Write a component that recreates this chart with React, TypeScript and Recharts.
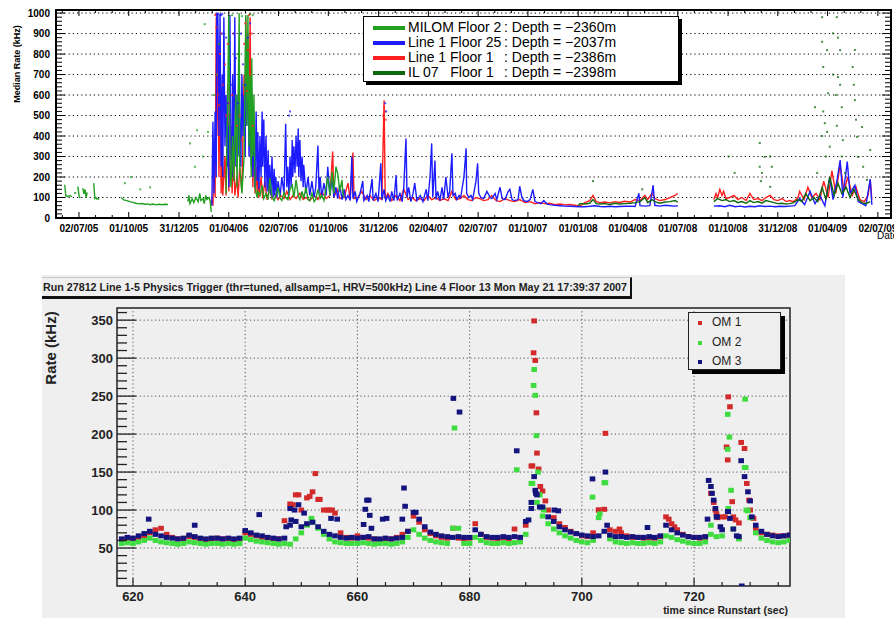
import React from 'react';
import {
  ComposedChart,
  ScatterChart,
  Line,
  Scatter,
  XAxis,
  YAxis,
  ReferenceLine,
  ReferenceArea,
  Legend,
} from 'recharts';

const FONT = '"Liberation Sans", Arial, Helvetica, sans-serif';

// ---------------- top panel: median rates 2005-2009 ----------------
// x = days since 02/07/05
const dayTicks = [0, 91, 183, 274, 365, 456, 548, 639, 730, 821, 913, 1004, 1095, 1187, 1278, 1369, 1461];
const dayLabels = [
  '02/07/05', '01/10/05', '31/12/05', '01/04/06', '02/07/06', '01/10/06', '31/12/06', '02/04/07',
  '02/07/07', '01/10/07', '01/01/08', '01/04/08', '01/07/08', '01/10/08', '31/12/08', '01/04/09', '02/07/09',
];
const rateTicks = [0, 100, 200, 300, 400, 500, 600, 700, 800, 900, 1000];
const rateGrid = [100, 200, 300, 400, 500, 600, 700, 800, 900, 1000];

type Pt = [number, number | null];

const milomTrace: Pt[] = [
  [-26, 162], [-24, 108], [-20, 105], [-16, 110], [-13, 104], [-11, null], [-9, 121], [-5, 124], [-4, null],
  [-2, 153], [0, 110], [2, 97], [5, null], [7, 146], [9, 118], [11, 140], [13, 100], [15, 125], [17, null],
  [27, 170], [29, 95], [31, 100], [33, 92], [35, 95], [37, 90], [40, null],
  [77, 100], [79, 95], [82, 88], [88, 85], [93, 80], [99, 76], [104, 72], [110, 69], [115, 71], [121, 67],
  [126, 69], [130, 65], [135, 68], [141, 64], [146, 67], [152, 65], [157, 67], [163, 66], [165, null],
  [199, 80], [201, 110], [203, 70], [207, 95], [210, 75], [214, 100], [218, 80], [221, 120], [223, 85],
  [227, 95], [229, 70], [232, 110], [234, 90], [238, 100], [240, 80], [242, 30], [243, null],
  [269, 120], [272, 600], [274, 990], [276, 300], [278, 150], [281, 400], [283, 180], [287, 600], [289, 150],
  [293, 990], [294, 250], [298, 120], [302, 300], [305, 990], [307, 450], [309, 990], [311, 350], [313, 700],
  [315, 200], [316, 780], [318, 300], [320, 600], [322, 150], [324, 120], [326, 100],
  [327, 130], [331, 110], [335, 160], [338, 95], [342, 120], [346, 90], [349, 195], [353, 100], [357, 85],
  [360, 110], [364, 150], [368, 95], [371, 85], [375, 125], [378, 100], [382, 90], [386, 140], [390, 160],
  [393, 100], [397, 186], [401, 110], [404, 90], [408, 130], [411, 95], [415, 150], [419, 90], [422, 85],
  [426, 120], [430, 80], [433, 90], [437, 140], [441, 95], [444, 110], [448, 85], [452, 150], [455, 201],
  [459, 110], [463, 226], [466, 120], [470, 251], [473, 220], [477, 130], [481, 186], [483, 110], [485, 100],
];
const milomDots: Pt[] = [
  [84, 170], [95, 200], [112, 140], [130, 150], [203, 364], [212, 250], [216, 428], [227, 300], [230, 946],
  [236, 420], [247, 600], [252, 700], [256, 850], [280, 990], [293, 995], [298, 985], [313, 995], [318, 990],
  [290, 800], [300, 650], [309, 900],
];

const floor25Trace: Pt[] = [
  [243, 60], [245, 470], [247, 120], [249, 520], [251, 200], [252, 990], [254, 1000], [256, 400], [258, 995],
  [260, 250], [262, 700], [263, 200], [265, 980], [267, 350], [269, 600], [271, 250], [272, 450], [274, 150],
  [276, 990], [278, 300], [280, 200], [281, 700], [283, 350], [285, 980], [287, 250], [289, 600], [291, 300],
  [293, 800], [294, 500], [296, 250], [298, 700], [300, 400], [302, 600], [304, 300], [305, 900], [307, 450],
  [309, 750], [311, 300], [313, 500], [315, 250], [316, 600], [318, 200], [320, 450], [322, 150], [324, 520],
  [326, 180], [327, 420], [329, 140], [331, 400], [333, 200], [335, 520], [336, 250], [338, 480], [340, 150],
  [342, 400], [344, 130], [346, 330], [347, 120], [349, 260], [351, 110], [353, 300], [355, 100], [357, 240],
  [358, 110], [360, 200], [362, 100], [364, 180], [368, 110], [371, 200], [375, 120], [378, 460], [380, 150],
  [382, 250], [384, 110], [386, 300], [388, 150], [390, 380], [391, 200], [393, 350], [395, 220], [397, 400],
  [399, 250], [401, 437], [402, 200], [404, 380], [406, 180], [408, 300], [410, 150], [411, 260], [415, 120],
  [419, 200], [422, 110], [426, 180], [430, 100], [433, 150], [437, 354], [439, 120], [441, 200], [444, 100],
  [448, 170], [452, 110], [455, 250], [459, 110], [463, 200], [466, 100], [470, 150], [473, 95], [477, 160],
  [481, 90], [485, 140], [488, 90], [492, 110], [496, 85], [499, 300], [501, 95], [505, 130], [508, 80],
  [514, 120], [519, 180], [521, 85], [527, 110], [530, 80], [536, 190], [538, 85], [543, 120], [547, 80],
  [552, 267], [554, 90], [558, 140], [561, 85], [565, 110], [569, 80], [572, 130], [576, 85], [580, 210],
  [582, 85], [587, 120], [591, 80], [594, 150], [598, 388], [600, 100], [603, 150], [607, 80], [611, 120],
  [614, 170], [618, 85], [624, 110], [629, 80], [635, 140], [638, 85], [642, 200], [645, 364], [647, 100],
  [651, 280], [653, 90], [656, 130], [660, 85], [664, 150], [667, 90], [671, 200], [675, 100], [678, 130],
  [682, 316], [684, 110], [688, 120], [691, 90], [695, 110], [698, 100], [704, 200], [708, 340], [709, 120],
  [713, 100], [717, 110], [720, 90], [726, 180], [729, 267], [731, 120], [735, 100], [740, 95], [746, 130],
  [752, 100], [755, 95], [761, 120], [764, 90], [770, 150], [774, 95], [779, 90], [785, 130], [788, 140],
  [792, 90], [797, 85], [803, 90], [806, 155], [810, 100], [814, 85], [819, 80], [825, 90], [830, 140],
  [834, 80], [839, 75], [845, 70], [850, 85], [856, 68], [861, 65], [870, 62], [880, 60], [889, 58], [898, 57],
  [907, 56], [916, 55], [925, 55], [934, 57], [944, 60], [953, 56], [962, 55], [971, 57], [980, 55], [989, 56],
  [998, 57], [1008, 58], [1017, 56], [1024, 121], [1026, 60], [1035, 58], [1044, 60], [1050, 160], [1053, 62],
  [1062, 58], [1072, 62], [1081, 60], [1090, 58], [1095, 60], [1100, null],
  [1161, 58], [1172, 60], [1181, 55], [1190, 62], [1200, 55], [1209, 58], [1218, 54], [1227, 57], [1236, 55],
  [1245, 60], [1254, 56], [1264, 58], [1273, 55], [1282, 57], [1291, 56], [1300, 58], [1309, 60], [1318, 95],
  [1327, 65], [1337, 130], [1346, 70], [1355, 110], [1364, 60], [1373, 200], [1379, 90], [1386, 180],
  [1392, 283], [1397, 100], [1405, 275], [1410, 120], [1419, 160], [1425, 80], [1432, 70], [1439, 60],
  [1447, 190], [1450, 65],
];
const floor25Dots: Pt[] = [
  [256, 850], [262, 900], [265, 700], [269, 880], [272, 560], [278, 650], [283, 900], [287, 780], [291, 560],
  [296, 900], [300, 750], [304, 650], [309, 880], [313, 950], [252, 995], [254, 998], [258, 992], [260, 990],
  [262, 996], [384, 500], [386, 520], [560, 560], [562, 520],
];

const floor1Trace: Pt[] = [
  [241, 65], [243, 95], [245, 60], [247, 300], [249, 100], [251, 980], [252, 400], [254, 850], [256, 200],
  [258, 700], [260, 120], [262, 500], [263, 110], [267, 300], [269, 110], [272, 650], [274, 130], [278, 450],
  [280, 120], [283, 350], [285, 110], [289, 200], [291, 100], [294, 250], [298, 130], [302, 700], [304, 350],
  [305, 980], [307, 500], [309, 900], [311, 400], [313, 980], [315, 300], [316, 600], [318, 150], [320, 400],
  [322, 120], [324, 250], [326, 110], [327, 300], [329, 100], [333, 200], [336, 95], [340, 180], [344, 90],
  [349, 150], [353, 95], [358, 120], [364, 90], [369, 110], [375, 95], [380, 130], [386, 90], [391, 110],
  [397, 95], [404, 120], [410, 90], [415, 100], [422, 85], [430, 110], [437, 90], [444, 130], [452, 95],
  [459, 110], [464, 325], [466, 100], [472, 140], [477, 95], [485, 100], [492, 170], [496, 90], [501, 320],
  [503, 95], [510, 100], [517, 130], [525, 90], [532, 110], [540, 85], [547, 100], [554, 90], [558, 574],
  [560, 95], [565, 120], [572, 85], [580, 110], [587, 85], [594, 140], [602, 90], [609, 100], [616, 85],
  [624, 95], [631, 85], [638, 110], [645, 90], [653, 100], [660, 85], [667, 95], [675, 85], [682, 130],
  [689, 90], [697, 95], [704, 110], [711, 90], [718, 85], [726, 100], [733, 95], [740, 85], [748, 90],
  [755, 110], [763, 85], [770, 80], [779, 95], [788, 85], [797, 80], [806, 90], [816, 75], [825, 80], [834, 70],
  [843, 75], [852, 70], [861, 72], [870, 65], [880, 68], [889, 64], [898, 66], [907, 62], [916, 58], [925, 75],
  [934, 85], [940, 110], [946, 80], [953, 75], [962, 78], [971, 74], [980, 80], [989, 76], [998, 82], [1008, 78],
  [1017, 90], [1026, 85], [1035, 110], [1040, 90], [1048, 120], [1053, 95], [1062, 85], [1072, 90], [1081, 100],
  [1090, 110], [1095, 120], [1100, null],
  [1161, 90], [1165, 120], [1168, 100], [1172, 140], [1176, 110], [1179, 130], [1183, 95], [1190, 100],
  [1198, 110], [1205, 90], [1212, 100], [1220, 85], [1227, 120], [1234, 90], [1242, 95], [1249, 85], [1256, 100],
  [1264, 110], [1271, 90], [1278, 85], [1286, 95], [1293, 80], [1300, 85], [1307, 80], [1315, 100], [1318, 130],
  [1326, 90], [1333, 150], [1340, 100], [1348, 120], [1355, 90], [1362, 180], [1370, 100], [1377, 230],
  [1384, 120], [1392, 260], [1399, 130], [1406, 200], [1414, 110], [1421, 150], [1428, 90], [1436, 80],
  [1443, 110], [1447, 186], [1450, 90],
];
const floor1Dots: Pt[] = [
  [251, 930], [252, 700], [254, 600], [256, 550], [258, 800], [260, 900], [263, 650], [267, 750], [269, 500],
  [272, 850], [274, 560], [280, 600], [283, 900], [289, 450], [294, 500], [298, 380], [302, 850], [304, 950],
  [307, 620], [309, 820], [313, 700], [316, 900], [318, 450], [249, 990], [251, 995], [311, 990], [313, 995],
  [556, 500], [558, 540], [560, 520], [561, 480],
];

const il07Trace: Pt[] = [
  [913, 60], [916, 70], [925, 68], [934, 72], [940, 90], [946, 70], [953, 68], [962, 70], [971, 66], [980, 72],
  [989, 68], [998, 70], [1008, 72], [1017, 75], [1026, 80], [1035, 100], [1040, 75], [1048, 90], [1053, 80],
  [1062, 72], [1072, 78], [1081, 80], [1090, 85], [1095, 78], [1100, null],
  [1161, 80], [1168, 95], [1176, 85], [1183, 90], [1190, 80], [1198, 85], [1205, 75], [1212, 80], [1220, 72],
  [1227, 85], [1234, 75], [1242, 80], [1249, 72], [1256, 85], [1264, 80], [1271, 75], [1278, 70], [1286, 72],
  [1293, 68], [1300, 70], [1307, 75], [1315, 90], [1322, 80], [1329, 120], [1337, 85], [1344, 100], [1351, 80],
  [1359, 150], [1366, 90], [1373, 200], [1381, 110], [1388, 170], [1395, 120], [1403, 150], [1410, 100],
  [1417, 140], [1425, 90], [1432, 75], [1439, 70], [1447, 80],
];
const il07Dots: Pt[] = [
  [940, 180], [1030, 140], [1188, 300], [1199, 220], [1245, 366], [1245, 250], [1247, 180], [1249, 220],
  [1254, 298], [1264, 152], [1264, 300], [1267, 250], [1346, 541], [1350, 220], [1359, 980], [1359, 860],
  [1359, 400], [1361, 737], [1361, 520], [1364, 463], [1366, 300], [1368, 819], [1368, 420], [1370, 609],
  [1373, 348], [1379, 901], [1379, 700], [1384, 600], [1386, 980], [1386, 450], [1388, 688], [1388, 880],
  [1392, 819], [1392, 650], [1395, 541], [1395, 300], [1397, 380], [1401, 220], [1415, 737], [1417, 650],
  [1419, 575], [1419, 820], [1421, 480], [1423, 396], [1425, 298], [1432, 444], [1434, 250], [1441, 186],
  [1447, 332],
];

const topSeries = [
  { name: 'MILOM Floor 2', depth: ': Depth = \u22122360m', color: '#22a022', trace: milomTrace, dots: milomDots },
  { name: 'Line 1 Floor 25', depth: ': Depth = \u22122037m', color: '#1c1cff', trace: floor25Trace, dots: floor25Dots },
  { name: 'Line 1 Floor 1', depth: ': Depth = \u22122386m', color: '#ff1e1e', trace: floor1Trace, dots: floor1Dots },
  { name: 'IL 07   Floor 1', depth: ': Depth = \u22122398m', color: '#0c680c', trace: il07Trace, dots: il07Dots },
];
const topDrawOrder = [2, 1, 0, 3];

const DAY_MIN = -42;
const DAY_MAX = 1485;
const RATE_MAX = 1015;
const TOP = { left: 56, right: 891, top: 10, bottom: 218 };
const pxPerDay = (TOP.right - TOP.left) / (DAY_MAX - DAY_MIN);
const pxPerRate = (TOP.bottom - TOP.top) / RATE_MAX;

const toRows = (pts: Pt[]) => pts.map(([d, v]) => ({ d, v }));

function DateTick(props: any) {
  const { payload, index } = props;
  const cx = payload.coordinate;
  const marks: React.ReactNode[] = [];
  for (let k = -2; k <= 2; k++) {
    if (k < 0 && index !== 0) continue;
    const xx = cx + k * 30.4 * pxPerDay;
    if (xx < TOP.left + 1 || xx > TOP.right - 1) continue;
    const len = k === 0 ? 6 : 3;
    marks.push(
      <line key={'b' + k} x1={xx} x2={xx} y1={TOP.bottom} y2={TOP.bottom - len} stroke="#000" />,
      <line key={'t' + k} x1={xx} x2={xx} y1={TOP.top} y2={TOP.top + len} stroke="#000" />,
    );
  }
  return (
    <g>
      {marks}
      <text x={cx} y={232} textAnchor="middle" fontSize={10} fontWeight="bold" fontFamily={FONT} fill="#000">
        {dayLabels[index]}
      </text>
    </g>
  );
}

function RateTick(props: any) {
  const { payload, x } = props;
  const cy = payload.coordinate;
  const marks: React.ReactNode[] = [];
  for (let k = 0; k < 5; k++) {
    const yy = cy - k * 20 * pxPerRate;
    if (yy < TOP.top + 1) break;
    const len = k === 0 ? 9 : 6;
    marks.push(
      <line key={'l' + k} x1={TOP.left} x2={TOP.left + len} y1={yy} y2={yy} stroke="#000" />,
      <line key={'r' + k} x1={TOP.right - len} x2={TOP.right} y1={yy} y2={yy} stroke="#000" />,
    );
  }
  return (
    <g>
      {marks}
      <text x={x} y={cy + 3.6} textAnchor="end" fontSize={10} fontWeight="bold" fontFamily={FONT} fill="#000">
        {payload.value}
      </text>
    </g>
  );
}

const TinyDot = (p: any) => (
  <rect x={p.cx - 1} y={p.cy - 1} width={2} height={2} fill={p.fill} fillOpacity={0.75} />
);

function TopLegend() {
  return (
    <div
      style={{
        width: 316, height: 66, boxSizing: 'border-box', border: '1px solid #000', background: '#fff',
        boxShadow: '3px 3px 0 #000', fontFamily: FONT, fontSize: 14, color: '#000', position: 'relative',
      }}
    >
      {topSeries.map((s, i) => (
        <div key={s.name} style={{ position: 'absolute', left: 0, top: 3 + i * 15, height: 15, width: '100%' }}>
          <div style={{ position: 'absolute', left: 9, top: 6, width: 32, height: 4, background: s.color }} />
          <span style={{ position: 'absolute', left: 44, top: -1, whiteSpace: 'pre' }}>{s.name}</span>
          <span style={{ position: 'absolute', left: 140, top: -1, whiteSpace: 'pre' }}>{s.depth}</span>
        </div>
      ))}
    </div>
  );
}

function MedianRateChart() {
  return (
    <ComposedChart width={894} height={245} margin={{ top: 10, right: 3, bottom: 0, left: 0 }}>
      <XAxis
        type="number"
        dataKey="d"
        domain={[DAY_MIN, DAY_MAX]}
        ticks={dayTicks}
        interval={0}
        allowDataOverflow
        height={27}
        axisLine={false}
        tickLine={false}
        tickSize={0}
        tick={(p: any) => <DateTick {...p} />}
        label={{
          content: () => (
            <text x={877} y={239} fontSize={10} fontFamily={FONT} fill="#000">
              Date
            </text>
          ),
        }}
      />
      <YAxis
        type="number"
        dataKey="v"
        domain={[0, RATE_MAX]}
        ticks={rateTicks}
        interval={0}
        allowDataOverflow
        width={56}
        axisLine={false}
        tickLine={false}
        tickSize={0}
        tickMargin={6}
        tick={(p: any) => <RateTick {...p} />}
        label={{
          content: () => (
            <text
              transform="translate(20,64) rotate(-90)"
              textAnchor="middle"
              fontSize={9}
              fontWeight="bold"
              fontFamily={FONT}
              fill="#000"
            >
              Median Rate (kHz)
            </text>
          ),
        }}
      />
      {rateGrid.map((v) => (
        <ReferenceLine key={v} y={v} stroke="#000" strokeWidth={1} strokeDasharray="1.2 3" />
      ))}
      {topDrawOrder.map((i) => (
        <Line
          key={'line' + i}
          data={toRows(topSeries[i].trace)}
          dataKey="v"
          stroke={topSeries[i].color}
          strokeWidth={1.4}
          dot={false}
          connectNulls={false}
          isAnimationActive={false}
          legendType="none"
        />
      ))}
      {topDrawOrder.map((i) => (
        <Scatter
          key={'dots' + i}
          data={toRows(topSeries[i].dots)}
          dataKey="v"
          fill={topSeries[i].color}
          shape={TinyDot}
          isAnimationActive={false}
          legendType="none"
        />
      ))}
      <ReferenceArea x1={DAY_MIN} x2={DAY_MAX} y1={0} y2={RATE_MAX} fill="none" stroke="#000" strokeWidth={2} />
      <Legend
        layout="vertical"
        align="center"
        verticalAlign="middle"
        wrapperStyle={{ left: 363, top: 16, width: 320, height: 70 }}
        content={() => <TopLegend />}
      />
    </ComposedChart>
  );
}

// ---------------- bottom panel: run 27812 trigger rates ----------------
const secTicks = [620, 640, 660, 680, 700, 720];
const kHzTicks = [50, 100, 150, 200, 250, 300, 350];

const runSecs = [
  618, 619, 620, 621, 622, 623, 624, 625, 626, 627,
  628, 629, 630, 631, 632, 633, 634, 635, 636, 637,
  638, 639, 640, 641, 642, 643, 644, 645, 646, 647,
  648, 649, 650, 651, 652, 653, 654, 655, 656, 657,
  658, 659, 660, 661, 662, 663, 664, 665, 666, 667,
  668, 669, 670, 671, 672, 673, 674, 675, 676, 677,
  678, 679, 680, 681, 682, 683, 684, 685, 686, 687,
  688, 689, 690, 691, 692, 693, 694, 695, 696, 697,
  698, 699, 700, 701, 702, 703, 704, 705, 706, 707,
  708, 709, 710, 711, 712, 713, 714, 715, 716, 717,
  718, 719, 720, 721, 722, 723, 724, 725, 726, 727,
  728, 729, 730, 731, 732, 733, 734, 735, 736, 737,
];
const om1Rate = [
  61, 62, 62, 64, 66, 70, 74, 76, 68, 64,
  62, 62, 65, 64, 62, 61, 62, 63, 62, 62,
  61, 62, 70, 68, 66, 64, 63, 62, 62, 86,
  108, 120, 100, 116, 124, 114, 100, 100, 96, 70,
  64, 63, 66, 64, 63, 62, 61, 62, 62, 64,
  68, 72, 92, 84, 74, 69, 66, 64, 63, 76,
  63, 62, 63, 82, 68, 64, 63, 62, 63, 62,
  75, 63, 80, 158, 175, 125, 100, 90, 82, 77,
  72, 69, 66, 65, 70, 100, 101, 74, 72, 70,
  66, 64, 64, 63, 63, 63, 65, 91, 82, 74,
  68, 65, 64, 63, 64, 122, 95, 91, 166, 91,
  83, 181, 100, 75, 70, 68, 67, 66, 66, 67,
];
const om2Rate = [
  56, 57, 56, 58, 60, 63, 60, 58, 57, 56,
  55, 56, 58, 57, 56, 55, 56, 56, 55, 56,
  55, 56, 63, 61, 59, 58, 57, 56, 55, 56,
  55, 62, 70, 80, 84, 76, 68, 62, 58, 57,
  56, 56, 56, 57, 56, 55, 56, 56, 55, 56,
  58, 64, 74, 68, 63, 60, 58, 57, 56, 76,
  76, 56, 56, 64, 60, 57, 56, 56, 57, 56,
  57, 58, 68, 135, 110, 92, 82, 75, 70, 66,
  63, 60, 58, 57, 60, 90, 136, 62, 58, 57,
  56, 57, 56, 56, 57, 56, 58, 66, 64, 61,
  59, 57, 56, 56, 58, 68, 65, 66, 180, 75,
  62, 156, 90, 70, 63, 60, 58, 57, 58, 60,
];
const om3Rate = [
  62, 64, 63, 66, 69, 72, 68, 66, 64, 63,
  62, 63, 67, 65, 63, 62, 63, 63, 62, 63,
  62, 63, 73, 70, 67, 66, 64, 63, 62, 63,
  80, 85, 78, 82, 84, 78, 72, 68, 66, 64,
  63, 64, 63, 64, 65, 62, 62, 63, 62, 63,
  64, 72, 97, 88, 78, 71, 68, 66, 65, 64,
  65, 64, 64, 74, 68, 65, 64, 64, 65, 64,
  65, 64, 85, 110, 120, 104, 91, 85, 78, 74,
  71, 69, 67, 66, 65, 66, 72, 67, 65, 65,
  64, 65, 64, 64, 65, 64, 66, 80, 74, 70,
  67, 65, 64, 64, 65, 131, 91, 74, 98, 75,
  65, 144, 112, 80, 72, 68, 66, 65, 66, 67,
];
const om1Extra: Pt[] = [
  [691.2, 158], [691.4, 307], [691.5, 349], [691.7, 297], [691.9, 228], [692.3, 154], [692.6, 131], [693.5, 112],
  [649.5, 120], [651.5, 118], [652.5, 148], [653.3, 114], [654.6, 100], [655.5, 100], [648.5, 107], [703.0, 100],
  [704.2, 201], [723.5, 110], [723.8, 100], [724.2, 90], [725.5, 91], [725.8, 183], [726.1, 249], [726.4, 236],
  [726.8, 111], [727.4, 87], [728.4, 189], [729.4, 135], [729.8, 113], [730.6, 89], [715.5, 88], [716.5, 78],
  [706.7, 75],
];
const om2Extra: Pt[] = [
  [677.3, 208], [688.4, 153], [691.2, 135], [691.4, 264], [691.5, 285], [691.7, 251], [691.9, 198], [692.2, 150],
  [692.5, 120], [693.2, 100], [701.9, 117], [703.2, 95], [704.2, 136], [651.8, 89], [723.0, 80], [726.0, 226],
  [726.1, 102], [726.3, 196], [726.6, 126], [729.1, 246], [729.2, 156], [729.3, 100], [729.6, 99], [730.2, 90],
];
const om3Extra: Pt[] = [
  [622.8, 88], [631, 80], [642.5, 94], [647.3, 78], [648, 102], [648.2, 87], [648.8, 100], [649.5, 107],
  [650.5, 96], [655.3, 89], [656.4, 88], [661.1, 81], [661.4, 101], [661.7, 113], [662, 113], [662.2, 93],
  [662.5, 76], [664.5, 88], [665.2, 89], [668, 88], [668.3, 129], [668.5, 105], [670.4, 97], [677.1, 247],
  [678.2, 229], [688.4, 178], [690.5, 87], [691, 102], [691.5, 144], [691.7, 126], [691.8, 122], [692.5, 104],
  [695.1, 100], [695.8, 99], [701.9, 141], [704.2, 150], [704.5, 80], [711.7, 77], [722.4, 88], [722.6, 139],
  [723.2, 122], [723.5, 113], [723.8, 102], [724.1, 91], [724.7, 78], [726.1, 98], [726.4, 89], [727.6, 66],
  [728.4, 165], [728.5, 0], [729.6, 124], [730.3, 91],
];

const omSeries = [
  { name: 'OM 1', color: '#d22a2a', rate: om1Rate, extra: om1Extra },
  { name: 'OM 2', color: '#3fdc3f', rate: om2Rate, extra: om2Extra },
  { name: 'OM 3', color: '#14147e', rate: om3Rate, extra: om3Extra },
];

const T_MIN = 617.15;
const T_MAX = 737.1;
const K_MAX = 366;
const BOT = { left: 75, right: 748, top: 33, bottom: 311 };
const pxPerSec = (BOT.right - BOT.left) / (T_MAX - T_MIN);
const pxPerKHz = (BOT.bottom - BOT.top) / K_MAX;

const omRows = (rate: number[], extra: Pt[]) => [
  ...runSecs.map((t, i) => ({ t, r: rate[i] })),
  ...extra.map(([t, r]) => ({ t, r })),
];

function SecTick(props: any) {
  const { payload, index } = props;
  const cx = payload.coordinate;
  const marks: React.ReactNode[] = [];
  for (let k = -3; k <= 3; k++) {
    if (k < 0 && index !== 0) continue;
    const xx = cx + k * 5 * pxPerSec;
    if (xx < BOT.left + 1 || xx > BOT.right - 1) continue;
    const len = k === 0 ? 8 : 4;
    marks.push(<line key={k} x1={xx} x2={xx} y1={BOT.bottom} y2={BOT.bottom - len} stroke="#222" strokeWidth={1.2} />);
  }
  return (
    <g>
      {marks}
      <text x={cx} y={326} textAnchor="middle" fontSize={13} fontWeight="bold" fontFamily={FONT} fill="#222">
        {payload.value}
      </text>
    </g>
  );
}

function KHzTick(props: any) {
  const { payload, index, x } = props;
  const cy = payload.coordinate;
  const marks: React.ReactNode[] = [];
  for (let k = -4; k <= 4; k++) {
    if (k < 0 && index !== 0) continue;
    const yy = cy - k * 10 * pxPerKHz;
    if (yy < BOT.top + 1 || yy > BOT.bottom - 1) continue;
    const len = k === 0 ? 19 : 10;
    marks.push(<line key={k} x1={BOT.left} x2={BOT.left + len} y1={yy} y2={yy} stroke="#222" strokeWidth={1.3} />);
  }
  return (
    <g>
      {marks}
      <text x={x} y={cy + 4.6} textAnchor="end" fontSize={13} fontWeight="bold" fontFamily={FONT} fill="#222">
        {payload.value}
      </text>
    </g>
  );
}

const Square = (p: any) => <rect x={p.cx - 2.8} y={p.cy - 2.5} width={5.6} height={5} fill={p.fill} />;

function OmLegend() {
  return (
    <div
      style={{
        width: 93, height: 58, boxSizing: 'border-box', border: '1px solid #222', background: '#efefef',
        boxShadow: '4px 4px 0 #000', fontFamily: FONT, fontSize: 12, color: '#222', position: 'relative',
      }}
    >
      {omSeries.map((s, i) => (
        <div key={s.name} style={{ position: 'absolute', left: 0, top: 2 + i * 19.5, height: 16, width: '100%' }}>
          <div style={{ position: 'absolute', left: 9, top: 6, width: 4, height: 4, background: s.color }} />
          <span style={{ position: 'absolute', left: 23, top: 0 }}>{s.name}</span>
        </div>
      ))}
    </div>
  );
}

function TriggerRateChart() {
  return (
    <ScatterChart width={803} height={343} margin={{ top: 33, right: 55, bottom: 0, left: 0 }}>
      <XAxis
        type="number"
        dataKey="t"
        domain={[T_MIN, T_MAX]}
        ticks={secTicks}
        interval={0}
        allowDataOverflow
        height={32}
        axisLine={false}
        tickLine={false}
        tickSize={0}
        tick={(p: any) => <SecTick {...p} />}
        label={{
          content: () => (
            <text x={746} y={339} textAnchor="end" fontSize={10.5} fontWeight="bold" fontFamily={FONT} fill="#222">
              time since Runstart (sec)
            </text>
          ),
        }}
      />
      <YAxis
        type="number"
        dataKey="r"
        domain={[0, K_MAX]}
        ticks={kHzTicks}
        interval={0}
        allowDataOverflow
        width={75}
        axisLine={false}
        tickLine={false}
        tickSize={0}
        tickMargin={4}
        tick={(p: any) => <KHzTick {...p} />}
        label={{
          content: () => (
            <text
              transform="translate(14,73) rotate(-90)"
              textAnchor="middle"
              fontSize={15}
              fontWeight="bold"
              fontFamily={FONT}
              fill="#222"
            >
              Rate (kHz)
            </text>
          ),
        }}
      />
      {kHzTicks.map((v) => (
        <ReferenceLine key={'h' + v} y={v} stroke="#555" strokeDasharray="1.2 2.6" />
      ))}
      {secTicks.map((v) => (
        <ReferenceLine key={'v' + v} x={v} stroke="#555" strokeDasharray="1.2 2.6" />
      ))}
      {omSeries.map((s) => (
        <Scatter
          key={s.name}
          name={s.name}
          data={omRows(s.rate, s.extra)}
          fill={s.color}
          shape={Square}
          isAnimationActive={false}
        />
      ))}
      <ReferenceArea x1={T_MIN} x2={T_MAX} y1={0} y2={K_MAX} fill="none" stroke="#222" strokeWidth={1.5} />
      <Legend
        layout="vertical"
        align="center"
        verticalAlign="middle"
        wrapperStyle={{ left: 646, top: 37, width: 100, height: 64 }}
        content={() => <OmLegend />}
      />
    </ScatterChart>
  );
}

function RunTitle() {
  return (
    <div
      style={{
        position: 'absolute', left: 0, top: 2, width: 588, height: 18, boxSizing: 'content-box',
        borderTop: '1px solid #c8c8c8', borderRight: '2px solid #111', borderBottom: '3px solid #111',
      }}
    >
      <svg width={588} height={18} style={{ display: 'block' }}>
        <text x={1} y={13} fontSize={10.5} fontWeight="bold" fontFamily={FONT} fill="#222" textLength={584} lengthAdjust="spacingAndGlyphs">
          Run 27812 Line 1-5 Physics Trigger (thr=tuned, allsamp=1, HRV=500kHz) Line 4  Floor 13  Mon May 21 17:39:37 2007
        </text>
      </svg>
    </div>
  );
}

export default function App() {
  return (
    <div
      style={{
        position: 'absolute', left: 0, top: 0, width: 894, height: 618, background: '#fff',
        overflow: 'hidden', fontFamily: FONT,
      }}
    >
      <div style={{ position: 'absolute', left: 0, top: 0 }}>
        <MedianRateChart />
      </div>
      <div style={{ position: 'absolute', left: 42, top: 275, width: 803, height: 343, background: '#efefef' }}>
        <TriggerRateChart />
        <RunTitle />
      </div>
    </div>
  );
}
